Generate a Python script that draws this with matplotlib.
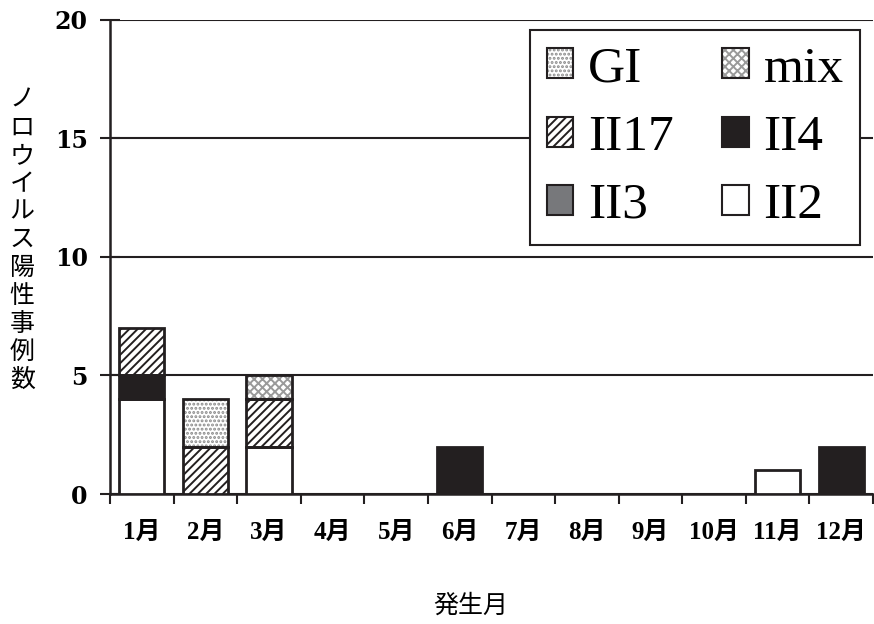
import numpy as np
import matplotlib.pyplot as plt
from matplotlib.patches import Patch
from matplotlib.legend_handler import HandlerTuple

# monthly norovirus-positive cases by genotype
months = ['1月', '2月', '3月', '4月', '5月', '6月',
          '7月', '8月', '9月', '10月', '11月', '12月']
ii2 = [4, 0, 2, 0, 0, 0, 0, 0, 0, 0, 1, 0]
ii3 = [0, 0, 0, 0, 0, 0, 0, 0, 0, 0, 0, 0]
ii4 = [1, 0, 0, 0, 0, 2, 0, 0, 0, 0, 0, 2]
ii17 = [2, 2, 2, 0, 0, 0, 0, 0, 0, 0, 0, 0]
gi = [0, 2, 0, 0, 0, 0, 0, 0, 0, 0, 0, 0]
mix = [0, 0, 1, 0, 0, 0, 0, 0, 0, 0, 0, 0]

jp = ['Noto Sans CJK JP', 'DejaVu Sans']
serif_jp = ['Liberation Serif', 'Noto Sans CJK JP']
ink = '#231f20'

# fill, hatch, hatch colour for each genotype (bottom to top)
series = [
    ('II2', ii2, 'white', '', ink),
    ('II3', ii3, '#77787b', '', ink),
    ('II4', ii4, ink, '', ink),
    ('II17', ii17, 'white', '////', ink),
    ('GI', gi, 'white', '....', '#8a8a8a'),
    ('mix', mix, 'white', 'xxxx', '#9a9a9a'),
]

plt.rcParams['hatch.linewidth'] = 1.4

fig = plt.figure(figsize=(8.74, 6.24), dpi=100)
ax = fig.add_axes([0.1259, 0.2083, 0.873, 0.760])

x = np.arange(len(months))
bottom = np.zeros(len(months))
handles = {}
width = 0.71
for name, vals, fc, hatch, hc in series:
    vals = np.array(vals, dtype=float)
    m = vals > 0
    if m.any():
        ax.bar(x[m], vals[m], bottom=bottom[m], width=width, color=fc,
               hatch=hatch, edgecolor=hc, linewidth=0, zorder=3)
        ax.bar(x[m], vals[m], bottom=bottom[m], width=width, fill=False,
               edgecolor=ink, linewidth=2, zorder=4)
    fill = Patch(facecolor=fc, hatch=hatch, edgecolor=hc, linewidth=0)
    edge = Patch(fill=False, edgecolor=ink, linewidth=1.5)
    handles[name] = (fill, edge)
    bottom += vals

ax.set_xlim(-0.5, 11.5)
ax.set_ylim(0, 20)
ax.set_yticks([0, 5, 10, 15, 20])
ax.yaxis.grid(True, color=ink, linewidth=1.5, zorder=1)
ax.set_axisbelow(True)

for s in ['top', 'right']:
    ax.spines[s].set_visible(False)
for s in ['left', 'bottom']:
    ax.spines[s].set_color(ink)
    ax.spines[s].set_linewidth(1.8)

ax.tick_params(axis='y', direction='inout', length=14, width=1.5,
               color=ink, pad=9)
for lbl in ax.get_yticklabels():
    lbl.set_fontfamily('DejaVu Serif')
    lbl.set_fontweight('bold')
    lbl.set_fontsize(17)

ax.set_xticks(x)
ax.set_xticklabels(months, family=serif_jp, fontsize=18, weight='bold')
ax.set_xticks(np.arange(-0.5, 12, 1), minor=True)
ax.tick_params(axis='x', which='major', length=0, pad=19)
ax.tick_params(axis='x', which='minor', direction='out', length=7,
               width=1.5, color=ink)

ax.text(-0.115, 0.536, '\n'.join('ノロウイルス陽性事例数'),
        transform=ax.transAxes, family=jp, fontsize=18, ha='center',
        va='center', linespacing=1.1)
fig.text(0.539, 0.029, '発生月', family=jp, fontsize=18, ha='center',
         va='center')

order = ['GI', 'II17', 'II3', 'mix', 'II4', 'II2']
leg = ax.legend([handles[n] for n in order], order, ncol=2,
                handler_map={tuple: HandlerTuple(ndivide=1, pad=0)},
                loc='upper right', bbox_to_anchor=(0.983, 0.979),
                borderaxespad=0,
                prop={'family': 'Liberation Serif', 'size': 37},
                handlelength=0.52, handleheight=0.52, handletextpad=0.28,
                columnspacing=0.95, labelspacing=0.42, borderpad=0.32,
                fancybox=False, framealpha=1, edgecolor=ink)
leg.get_frame().set_linewidth(1.5)
leg.set_zorder(5)

fig.savefig('out.png', dpi=100)
